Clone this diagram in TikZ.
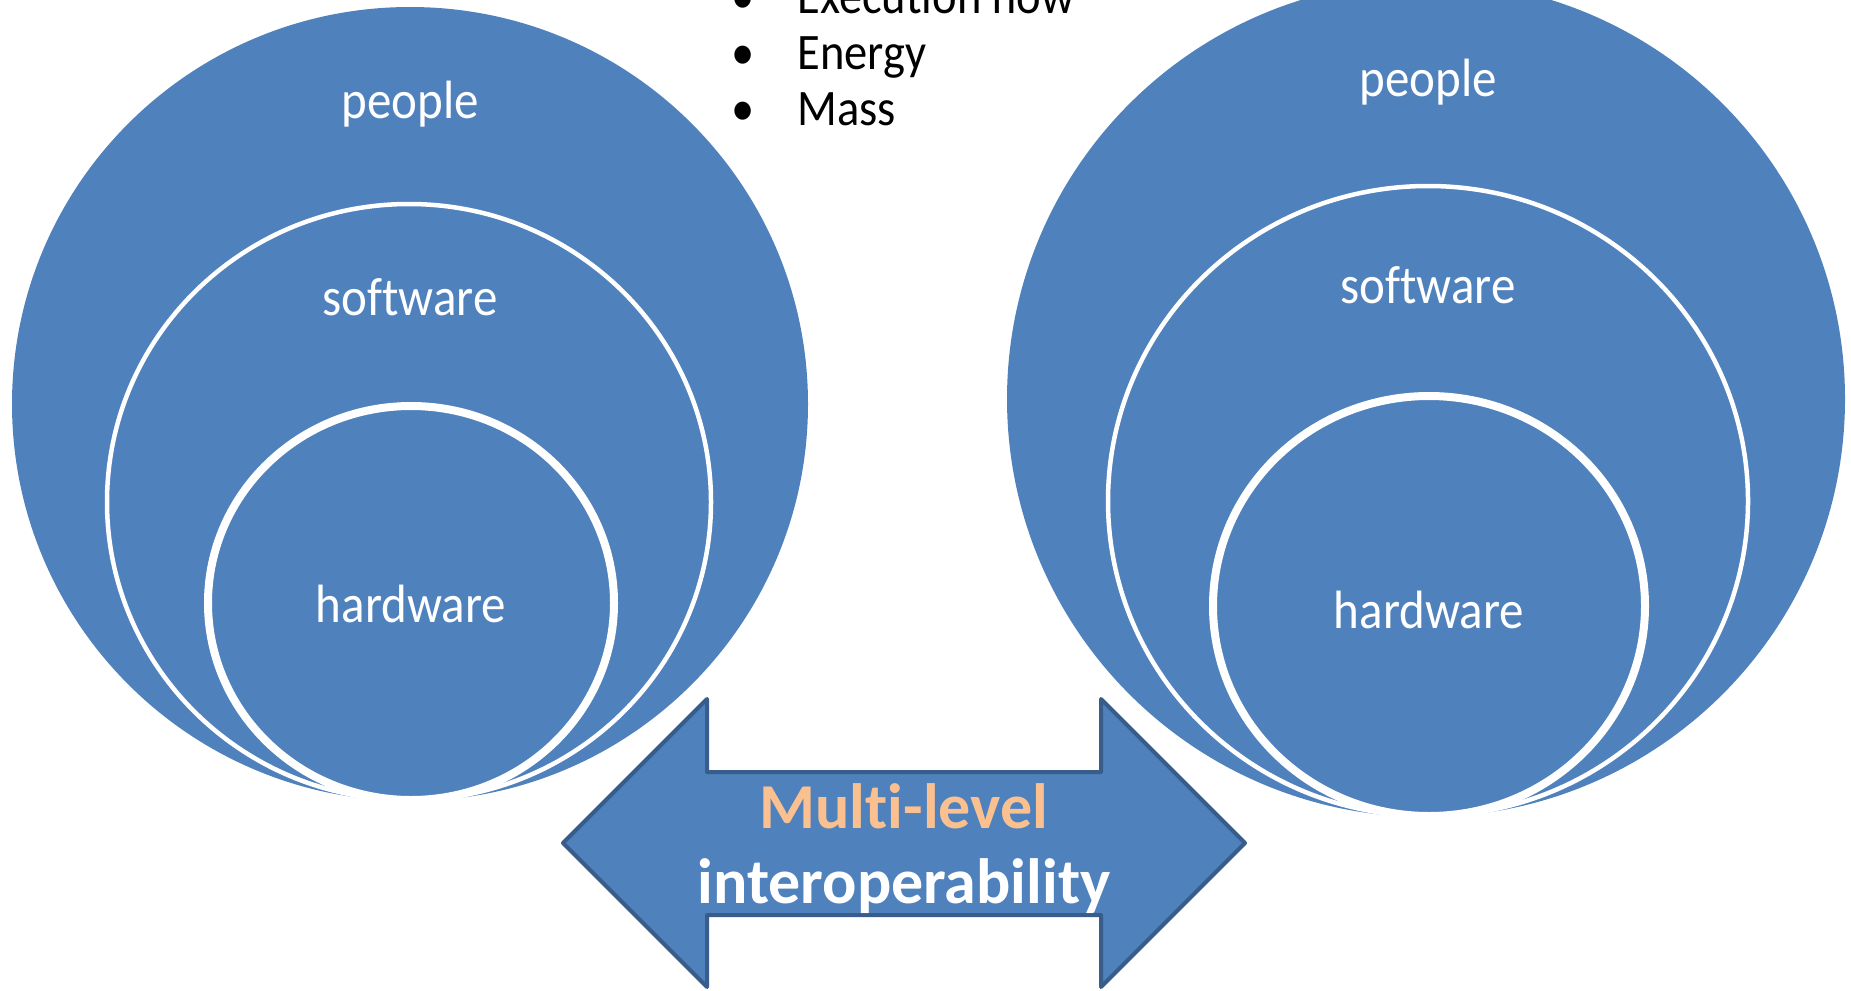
\documentclass[tikz,border=0pt]{standalone}
\usepackage{graphicx}
\usepackage{fontspec}
\setmainfont[Ligatures=NoCommon]{Carlito}
\definecolor{fillblue}{HTML}{4F81BD}
\definecolor{edgeblue}{HTML}{385D8A}
\definecolor{orangetxt}{HTML}{FAC090}
\tikzset{
  disc/.style={fill=fillblue},
  ring/.style={fill=fillblue, draw=white, line width=2.25pt},
  corering/.style={fill=fillblue, draw=white, line width=4pt},
  lbl/.style={text=white, font=\fontsize{24.5pt}{29pt}\selectfont, inner sep=0pt, anchor=base},
  bul/.style={text=black, font=\fontsize{23.25pt}{28pt}\selectfont, inner sep=0pt, anchor=base},
  bultxt/.style={bul, anchor=base west},
  arrowbox/.style={fill=fillblue, draw=edgeblue, line width=2pt, line join=round},
  arrtxt/.style={font=\fontsize{32pt}{38pt}\selectfont\bfseries, inner sep=0pt, anchor=base}
}
\begin{document}
\begin{tikzpicture}[x=0.5pt,y=-0.5pt]
\useasboundingbox (0,0) rectangle (1851,990);
\clip (0,0) rectangle (1851,990);
% left nested circles
\fill[disc] (410,404) ellipse [x radius=398, y radius=397];
\draw[ring] (409,502) ellipse [x radius=302, y radius=298];
\draw[corering] (411,603) ellipse [x radius=203, y radius=197];
\node[lbl] (lpeople) at (410,119) {\scalebox{1}[1.1]{people}};
\node[lbl] (lsoft) at (410,315) {\scalebox{1}[1.1]{software}};
\node[lbl] (lhard) at (411,622) {\scalebox{1}[1.1]{hardware}};
% right nested circles
\fill[disc] (1426,399) ellipse [x radius=419, y radius=418];
\draw[ring] (1428,501) ellipse [x radius=320, y radius=315];
\draw[corering] (1429,606) ellipse [x radius=216, y radius=210];
\node[lbl] (rpeople) at (1428,97) {\scalebox{1}[1.1]{people}};
\node[lbl] (rsoft) at (1428,303) {\scalebox{1}[1.1]{software}};
\node[lbl] (rhard) at (1429,628) {\scalebox{1}[1.1]{hardware}};
% bullet list
\node[bul] (b1) at (743,14) {\scalebox{1}[1.1]{•}};
\node[bultxt] (t1) at (797,14) {\scalebox{1}[1.1]{Execution flow}};
\node[bul] (b2) at (743,70) {\scalebox{1}[1.1]{•}};
\node[bultxt] (t2) at (797,70) {\scalebox{1}[1.1]{Energy}};
\node[bul] (b3) at (743,126) {\scalebox{1}[1.1]{•}};
\node[bultxt] (t3) at (797,126) {\scalebox{1}[1.1]{Mass}};
% double arrow
\draw[arrowbox] (563,843) -- (707,699) -- (707,772) -- (1101,772) -- (1101,699)
  -- (1245,843) -- (1101,987) -- (1101,915) -- (707,915) -- (707,987) -- cycle;
\node[arrtxt, text=orangetxt] (multi) at (904,828) {Multi-level};
\node[arrtxt, text=white] (inter) at (904,903) {interoperability};
\end{tikzpicture}
\end{document}
